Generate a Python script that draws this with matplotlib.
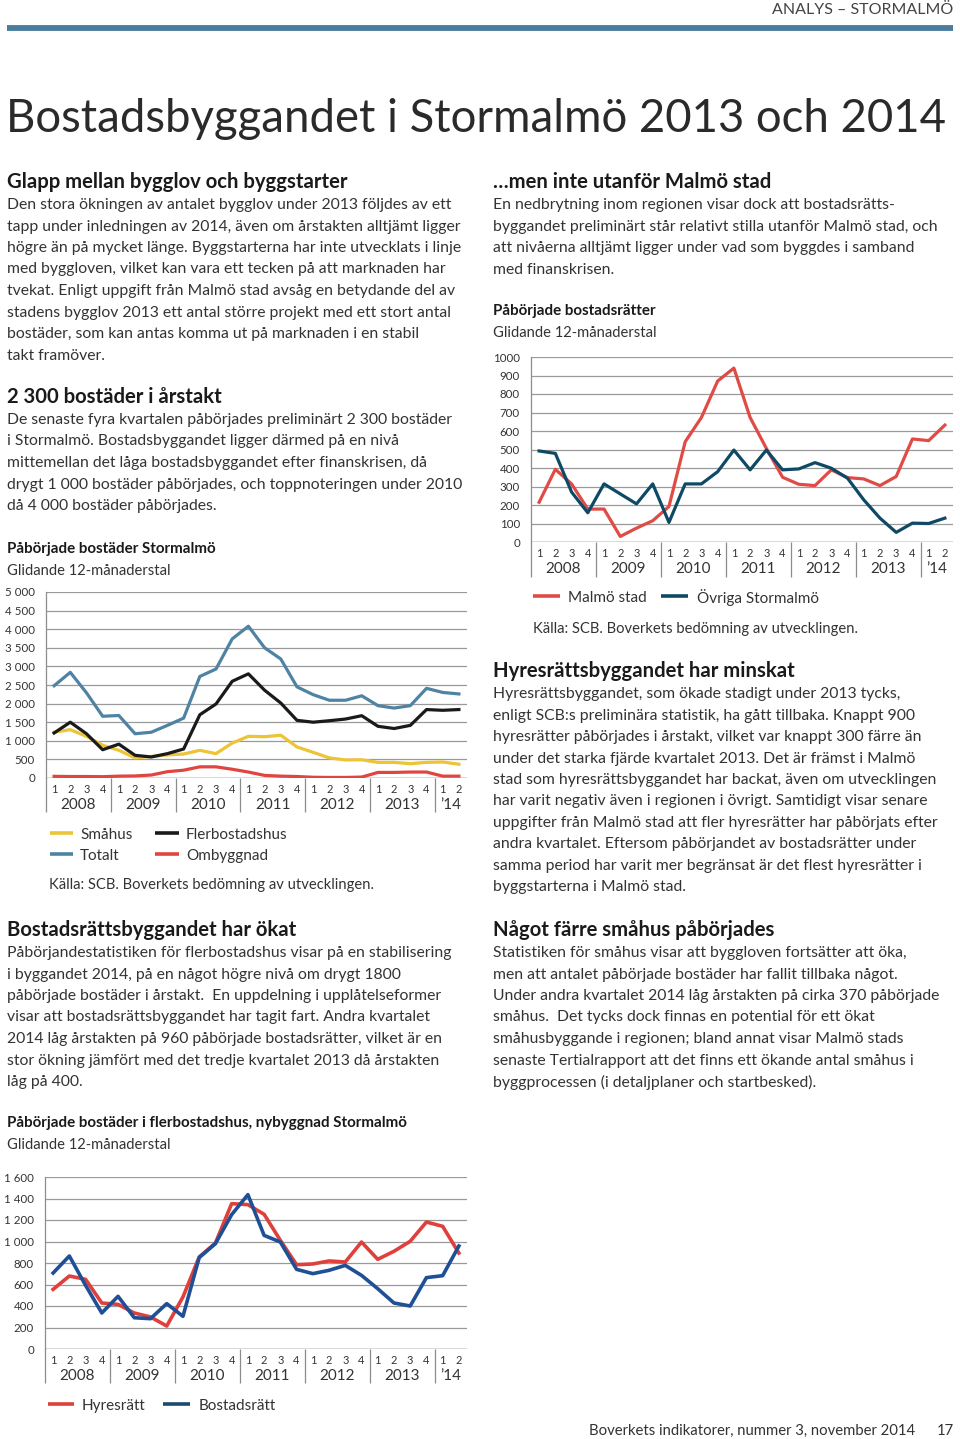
import matplotlib
matplotlib.use("Agg")
import matplotlib.pyplot as plt
from matplotlib.lines import Line2D

W, H = 960, 1439
BODY = "Lato"

# quarters 2008Q1 .. 2014Q2
quarters = ["1", "2", "3", "4"] * 6 + ["1", "2"]
years = ["2008", "2009", "2010", "2011", "2012", "2013", "\u201914"]

# Påbörjade bostäder Stormalmö
smahus = [1230, 1300, 1120, 880, 745, 540, 580, 620, 645, 745, 655, 940, 1120,
          1110, 1150, 835, 690, 540, 485, 490, 420, 420, 385, 420, 430, 370]
flerbostadshus = [1210, 1500, 1190, 760, 910, 610, 565, 655, 780, 1700, 1990, 2600, 2800,
                  2360, 2015, 1550, 1500, 1540, 1585, 1675, 1390, 1330, 1415, 1840, 1820, 1840]
totalt = [2480, 2840, 2290, 1660, 1680, 1190, 1230, 1415, 1610, 2730, 2930, 3740, 4080,
          3500, 3200, 2450, 2240, 2090, 2090, 2210, 1945, 1880, 1945, 2410, 2300, 2260]
ombyggnad = [45, 40, 40, 35, 50, 55, 80, 170, 210, 300, 300, 235, 160,
             70, 50, 40, 20, 15, 15, 25, 150, 150, 160, 160, 50, 50]

# Påbörjade bostadsrätter
malmo_stad = [215, 393, 314, 178, 178, 30, 75, 115, 192, 542, 673, 870, 940,
              673, 506, 350, 312, 305, 390, 348, 341, 305, 354, 557, 548, 632]
ovriga = [492, 479, 270, 158, 314, 260, 206, 314, 106, 314, 314, 380, 497,
          390, 497, 390, 395, 429, 399, 345, 228, 129, 52, 102, 100, 129]

# Påbörjade bostäder i flerbostadshus, nybyggnad
hyresratt = [555, 679, 648, 428, 415, 335, 298, 214, 484, 856, 986, 1352, 1343,
             1253, 1011, 784, 791, 819, 809, 995, 834, 909, 1002, 1181, 1141, 893]
bostadsratt = [707, 865, 592, 335, 490, 291, 282, 422, 304, 850, 980, 1250, 1436,
               1057, 995, 741, 701, 732, 778, 685, 561, 428, 400, 664, 682, 958]

fig = plt.figure(figsize=(W / 100, H / 100), dpi=100)

BODY_SIZE = 11.3
HEAD_SIZE = 14.6


def txt(x, y, s, size, weight="normal", color="#333333", ha="left", family=BODY):
    y = y + 2
    fig.text(x / W, 1 - y / H, s, fontsize=size, fontweight=weight, color=color,
             ha=ha, va="center", family=family)


def hline(x0, x1, y, color, lw):
    fig.add_artist(Line2D([x0 / W, x1 / W], [1 - y / H, 1 - y / H], color=color,
                          lw=lw, solid_capstyle="butt", transform=fig.transFigure))


def paragraph(x, y0, lines, step=21.5):
    for i, s in enumerate(lines):
        txt(x, y0 + i * step, s, BODY_SIZE)


def chart(left, right, top, bottom, ymax, ystep, fmt, sep_len):
    ax = fig.add_axes([left / W, 1 - bottom / H, (right - left) / W, (bottom - top) / H])
    ax.set_xlim(-0.5, 25.5)
    ax.set_ylim(0, ymax)
    ticks = list(range(0, ymax + 1, ystep))
    ax.set_yticks(ticks)
    ax.set_yticklabels([fmt(t) for t in ticks], family=BODY, fontsize=8.3, color="#333333")
    ax.set_xticks(range(26))
    ax.set_xticklabels(quarters, family=BODY, fontsize=7.9, color="#333333")
    ax.tick_params(length=0, pad=8)
    ax.tick_params(axis="x", pad=4)
    for s in ["top", "right", "bottom"]:
        ax.spines[s].set_visible(False)
    ax.spines["left"].set_color("#8c8c8c")
    ax.spines["left"].set_linewidth(0.9)
    for t in ticks:
        ax.axhline(t, color="#9a9a9a", lw=0.9, zorder=0)
    ax.axhline(0, color="#7a7a7a", lw=1.0, zorder=1)
    ax.vlines([3.5 + 4 * i for i in range(6)] + [-0.5], -sep_len, 0,
              transform=ax.get_xaxis_transform(), color="#8c8c8c", lw=0.9, clip_on=False)
    centers = [1.5 + 4 * i for i in range(6)] + [24.5]
    for c, yl in zip(centers, years):
        ax.text(c, -sep_len * 0.78, yl, transform=ax.get_xaxis_transform(), ha="center",
                va="center", fontsize=11, family=BODY, color="#333333")
    return ax


def space_fmt(v):
    return "{:,}".format(v).replace(",", " ")


# header
txt(953, 8, "ANALYS \u2013 STORMALMÖ", 11.5, color="#444444", ha="right")
hline(7, 953, 28, "#4a7d9b", 4.2)
txt(6, 117, "Bostadsbyggandet i Stormalmö 2013 och 2014", 32.8, color="#2a2a2a")

# left column
txt(7, 180, "Glapp mellan bygglov och byggstarter", HEAD_SIZE, weight="bold", color="#1a1a1a")
paragraph(7, 203, [
    "Den stora ökningen av antalet bygglov under 2013 följdes av ett",
    "tapp under inledningen av 2014, även om årstakten alltjämt ligger",
    "högre än på mycket länge. Byggstarterna har inte utvecklats i linje",
    "med byggloven, vilket kan vara ett tecken på att marknaden har",
    "tvekat. Enligt uppgift från Malmö stad avsåg en betydande del av",
    "stadens bygglov 2013 ett antal större projekt med ett stort antal",
    "bostäder, som kan antas komma ut på marknaden i en stabil",
    "takt framöver.",
])
txt(7, 395, "2 300 bostäder i årstakt", HEAD_SIZE, weight="bold", color="#1a1a1a")
paragraph(7, 418, [
    "De senaste fyra kvartalen påbörjades preliminärt 2 300 bostäder",
    "i Stormalmö. Bostadsbyggandet ligger därmed på en nivå",
    "mittemellan det låga bostadsbyggandet efter finanskrisen, då",
    "drygt 1 000 bostäder påbörjades, och toppnoteringen under 2010",
    "då 4 000 bostäder påbörjades.",
])
txt(7, 547, "Påbörjade bostäder Stormalmö", 10.9, weight="bold", color="#1a1a1a")
txt(7, 569, "Glidande 12-månaderstal", 10.6)

ax1 = chart(46, 467, 592, 778, 5000, 500, space_fmt, 0.185)
x = range(26)
ax1.plot(x, smahus, color="#ecc436", lw=2.3)
ax1.plot(x, totalt, color="#4f83a3", lw=2.3)
ax1.plot(x, ombyggnad, color="#e0453f", lw=2.3)
ax1.plot(x, flerbostadshus, color="#1a1a1a", lw=2.3)

hline(50, 73, 833, "#ecc436", 2.6)
txt(80, 833, "Småhus", 11)
hline(155, 179, 833, "#1a1a1a", 2.6)
txt(186, 833, "Flerbostadshus", 11)
hline(50, 73, 854, "#4f83a3", 2.6)
txt(80, 854, "Totalt", 11)
hline(155, 179, 854, "#e0453f", 2.6)
txt(186, 854, "Ombyggnad", 11)
txt(49, 883, "Källa: SCB. Boverkets bedömning av utvecklingen.", 10.6)

txt(7, 928, "Bostadsrättsbyggandet har ökat", HEAD_SIZE, weight="bold", color="#1a1a1a")
paragraph(7, 951, [
    "Påbörjandestatistiken för flerbostadshus visar på en stabilisering",
    "i byggandet 2014, på en något högre nivå om drygt 1800",
    "påbörjade bostäder i årstakt.  En uppdelning i upplåtelseformer",
    "visar att bostadsrättsbyggandet har tagit fart. Andra kvartalet",
    "2014 låg årstakten på 960 påbörjade bostadsrätter, vilket är en",
    "stor ökning jämfört med det tredje kvartalet 2013 då årstakten",
    "låg på 400.",
])
txt(7, 1121, "Påbörjade bostäder i flerbostadshus, nybyggnad Stormalmö", 10.9,
    weight="bold", color="#1a1a1a")
txt(7, 1143, "Glidande 12-månaderstal", 10.6)

ax3 = chart(45, 467, 1177, 1349, 1600, 200, space_fmt, 0.2)
ax3.plot(x, hyresratt, color="#e0403c", lw=2.6)
ax3.plot(x, bostadsratt, color="#1f4f96", lw=2.6)

hline(48, 74, 1404, "#e0403c", 2.6)
txt(82, 1404, "Hyresrätt", 11)
hline(163, 190, 1404, "#1a4a6e", 2.6)
txt(199, 1404, "Bostadsrätt", 11)

# right column
txt(493, 180, "\u2026men inte utanför Malmö stad", HEAD_SIZE, weight="bold", color="#1a1a1a")
paragraph(493, 203, [
    "En nedbrytning inom regionen visar dock att bostadsrätts-",
    "byggandet preliminärt står relativt stilla utanför Malmö stad, och",
    "att nivåerna alltjämt ligger under vad som byggdes i samband",
    "med finanskrisen.",
])
txt(493, 309, "Påbörjade bostadsrätter", 10.9, weight="bold", color="#1a1a1a")
txt(493, 331, "Glidande 12-månaderstal", 10.6)

ax2 = chart(531, 953, 357, 542, 1000, 100, str, 0.19)
ax2.plot(x, malmo_stad, color="#e04b45", lw=2.3)
ax2.plot(x, ovriga, color="#0e4a66", lw=2.3)

hline(533, 560, 596, "#e04b45", 2.6)
txt(568, 596, "Malmö stad", 11)
hline(661, 688, 596, "#0e4a66", 2.6)
txt(697, 596, "Övriga Stormalmö", 11)
txt(533, 627, "Källa: SCB. Boverkets bedömning av utvecklingen.", 10.6)

txt(493, 669, "Hyresrättsbyggandet har minskat", HEAD_SIZE, weight="bold", color="#1a1a1a")
paragraph(493, 692, [
    "Hyresrättsbyggandet, som ökade stadigt under 2013 tycks,",
    "enligt SCB:s preliminära statistik, ha gått tillbaka. Knappt 900",
    "hyresrätter påbörjades i årstakt, vilket var knappt 300 färre än",
    "under det starka fjärde kvartalet 2013. Det är främst i Malmö",
    "stad som hyresrättsbyggandet har backat, även om utvecklingen",
    "har varit negativ även i regionen i övrigt. Samtidigt visar senare",
    "uppgifter från Malmö stad att fler hyresrätter har påbörjats efter",
    "andra kvartalet. Eftersom påbörjandet av bostadsrätter under",
    "samma period har varit mer begränsat är det flest hyresrätter i",
    "byggstarterna i Malmö stad.",
])
txt(493, 928, "Något färre småhus påbörjades", HEAD_SIZE, weight="bold", color="#1a1a1a")
paragraph(493, 951, [
    "Statistiken för småhus visar att byggloven fortsätter att öka,",
    "men att antalet påbörjade bostäder har fallit tillbaka något.",
    "Under andra kvartalet 2014 låg årstakten på cirka 370 påbörjade",
    "småhus.  Det tycks dock finnas en potential för ett ökat",
    "småhusbyggande i regionen; bland annat visar Malmö stads",
    "senaste Tertialrapport att det finns ett ökande antal småhus i",
    "byggprocessen (i detaljplaner och startbesked).",
])

# footer
txt(915, 1429, "Boverkets indikatorer, nummer 3, november 2014", 10.7, ha="right")
txt(945, 1429, "17", 10.7, ha="center")

fig.savefig("out.png", dpi=100)
